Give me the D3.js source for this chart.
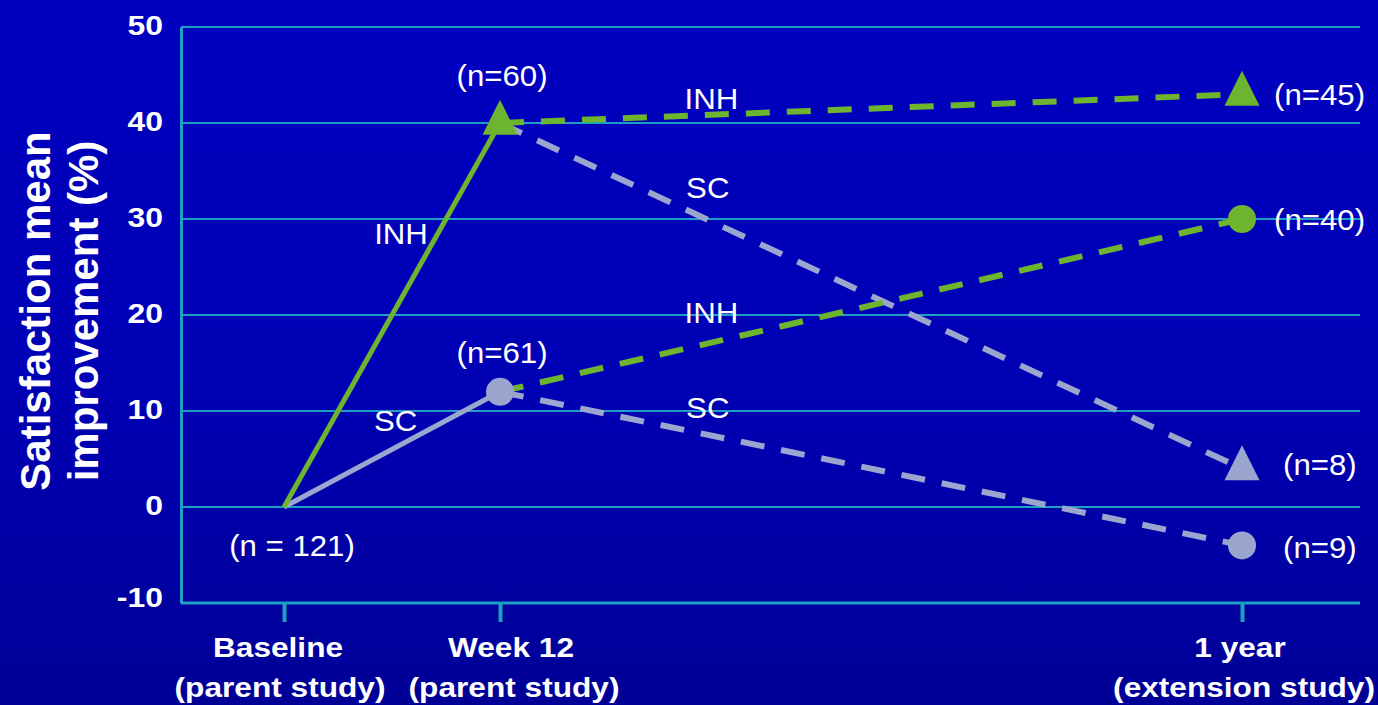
<!DOCTYPE html>
<html>
<head>
<meta charset="utf-8">
<script src="https://cdn.jsdelivr.net/npm/d3@7"></script>
<style>
  html, body { margin: 0; padding: 0; background: #0000b4; }
  svg { display: block; }
  text { font-family: Arial, "Liberation Sans", sans-serif; fill: #ffffff; }
</style>
</head>
<body>
<svg id="chart" width="1378" height="705"></svg>
<script>
// Time points on the x axis (weeks since baseline)
const timepoints = ["Baseline", "Week 12", "1 year"];
const timeSubtitles = ["(parent study)", "(parent study)", "(extension study)"];
const weeks = [0, 12, 52];
const yTicks = [-10, 0, 10, 20, 30, 40, 50];

// Parent study: baseline -> week 12, by randomised arm
const parentArms = ["INH", "SC"];
const inhParent = [0, 40];
const scParent = [0, 12];
const parentN = [121, 60, 61]; // baseline, INH week 12, SC week 12

// Extension study: week 12 -> 1 year, by arm at week 12 and treatment chosen
const fromInhToInh = [40, 43];
const fromInhToSc = [40, 4];
const fromScToInh = [12, 30];
const fromScToSc = [12, -4];
const yearN = [45, 8, 40, 9];

const GREEN = "#6db52e";
const GREY = "#9ba6cf";
const GRID = "#1e9fc4";

const svg = d3.select("#chart");
const W = 1378, H = 705;

// Background gradient
const defs = svg.append("defs");
const grad = defs.append("linearGradient").attr("id", "bg").attr("x1", 0).attr("y1", 0).attr("x2", 0).attr("y2", 1);
grad.append("stop").attr("offset", "0%").attr("stop-color", "#0000c0");
grad.append("stop").attr("offset", "55%").attr("stop-color", "#0000b4");
grad.append("stop").attr("offset", "100%").attr("stop-color", "#000096");
svg.append("rect").attr("width", W).attr("height", H).attr("fill", "url(#bg)");

const plotLeft = 181, plotRight = 1360;
const x = d3.scaleLinear().domain(weeks).range([284, 500, 1242]);
const y = d3.scaleLinear().domain([-10, 50]).range([603, 27]);

// Text helper with a slight horizontal widening
function wideText(g, tx, ty, str, opts) {
  return g.append("text")
    .attr("transform", `translate(${tx},${ty}) scale(${opts.sx || 1},1)`)
    .attr("text-anchor", opts.anchor || "middle")
    .attr("dy", opts.dy || null)
    .attr("font-size", opts.size)
    .attr("font-weight", opts.bold ? "bold" : "normal")
    .text(str);
}

// Horizontal gridlines
svg.append("g").selectAll("line").data(yTicks).join("line")
  .attr("x1", plotLeft).attr("x2", plotRight)
  .attr("y1", d => y(d)).attr("y2", d => y(d))
  .attr("stroke", GRID).attr("stroke-width", d => d === -10 ? 3 : 2);

// Y axis (line only; labels drawn below)
const yAxis = d3.axisLeft(y).tickValues(yTicks).tickSize(0).tickFormat("");
const yg = svg.append("g").attr("transform", `translate(${plotLeft},0)`).call(yAxis);
yg.select(".domain").attr("stroke", GRID).attr("stroke-width", 3);
const ytl = svg.append("g");
yTicks.forEach(t => {
  wideText(ytl, 163, y(t) - (t === -10 ? 6 : 2), String(t),
    { size: 28, bold: true, anchor: "end", sx: 1.14, dy: "0.35em" });
});

// X axis ticks
const xAxis = d3.axisBottom(x).tickValues(weeks).tickSize(19).tickFormat("");
const xg = svg.append("g").attr("transform", `translate(0,${y(-10)})`).call(xAxis);
xg.select(".domain").remove();
xg.selectAll(".tick line").attr("stroke", GRID).attr("stroke-width", 4);

// X tick labels (two lines each)
const labelShift = [-6, 11, -2];
const subShift = [-4, 14, 2];
const xl = svg.append("g");
timepoints.forEach((t, i) => {
  wideText(xl, x(weeks[i]) + labelShift[i], 657, t, { size: 28, bold: true, sx: 1.13 });
  wideText(xl, x(weeks[i]) + subShift[i], 697, timeSubtitles[i], { size: 28, bold: true, sx: 1.13 });
});

// Y axis title
const yt = svg.append("text").attr("transform", "translate(50,311) rotate(-90)")
  .attr("text-anchor", "middle").attr("font-size", 42).attr("font-weight", "bold");
yt.append("tspan").attr("x", 0).attr("y", 0).text("Satisfaction mean");
yt.append("tspan").attr("x", 0).attr("y", 48).text("improvement (%)");

const line = d3.line().x(d => x(d[0])).y(d => y(d[1]));

// Extension study segments (dashed)
const extSeries = [
  { vals: fromInhToSc, color: GREY },
  { vals: fromScToSc, color: GREY },
  { vals: fromScToInh, color: GREEN },
  { vals: fromInhToInh, color: GREEN }
];
svg.append("g").selectAll("path").data(extSeries).join("path")
  .attr("d", d => line(d.vals.map((v, i) => [weeks[i + 1], v])))
  .attr("fill", "none").attr("stroke", d => d.color)
  .attr("stroke-width", 6).attr("stroke-dasharray", "24,17");

// Parent study segments (solid)
const parentSeries = [
  { vals: scParent, color: GREY },
  { vals: inhParent, color: GREEN }
];
svg.append("g").selectAll("path").data(parentSeries).join("path")
  .attr("d", d => line(d.vals.map((v, i) => [weeks[i], v])))
  .attr("fill", "none").attr("stroke", d => d.color).attr("stroke-width", 5);

// Markers: triangles for the INH week-12 group, circles for the SC week-12 group
const tri = {
  draw(ctx, size) {
    const s = Math.sqrt(size); // width == height
    ctx.moveTo(0, -2 * s / 3);
    ctx.lineTo(s / 2, s / 3);
    ctx.lineTo(-s / 2, s / 3);
    ctx.closePath();
  }
};
const markers = [
  { w: 12, v: inhParent[1], shape: "tri", color: GREEN },
  { w: 12, v: scParent[1], shape: "circle", color: GREY },
  { w: 52, v: fromInhToInh[1], shape: "tri", color: GREEN },
  { w: 52, v: fromInhToSc[1], shape: "tri", color: GREY },
  { w: 52, v: fromScToInh[1], shape: "circle", color: GREEN },
  { w: 52, v: fromScToSc[1], shape: "circle", color: GREY }
];
svg.append("g").selectAll("path").data(markers).join("path")
  .attr("transform", d => `translate(${x(d.w)},${y(d.v)})`)
  .attr("d", d => d.shape === "tri"
    ? d3.symbol().type(tri).size(35 * 35)()
    : d3.symbol().type(d3.symbolCircle).size(Math.PI * 14 * 14)())
  .attr("fill", d => d.color);

// Series labels
const seriesLabels = [
  { text: "INH", w: 6.5, v: 28.5 },
  { text: "SC", w: 6.2, v: 9.0 },
  { text: "INH", w: 23.4, v: 42.6 },
  { text: "SC", w: 23.2, v: 33.3 },
  { text: "INH", w: 23.4, v: 20.3 },
  { text: "SC", w: 23.2, v: 10.4 }
];
const sl = svg.append("g");
seriesLabels.forEach(d => {
  wideText(sl, x(d.w), y(d.v), d.text, { size: 30, sx: 1.04, dy: "0.36em" });
});

// Sample size labels
const nLabels = [
  { text: `(n = ${parentN[0]})`, px: x(0) + 8, py: y(0) + 38, anchor: "middle" },
  { text: `(n=${parentN[1]})`, px: x(12) + 2, py: y(inhParent[1]) - 48, anchor: "middle" },
  { text: `(n=${parentN[2]})`, px: x(12) + 2, py: y(scParent[1]) - 40, anchor: "middle" },
  { text: `(n=${yearN[0]})`, px: x(52) + 32, py: y(fromInhToInh[1]), anchor: "start" },
  { text: `(n=${yearN[1]})`, px: x(52) + 41, py: y(fromInhToSc[1]) - 4, anchor: "start" },
  { text: `(n=${yearN[2]})`, px: x(52) + 32, py: y(fromScToInh[1]), anchor: "start" },
  { text: `(n=${yearN[3]})`, px: x(52) + 41, py: y(fromScToSc[1]) + 2, anchor: "start" }
];
const nl = svg.append("g");
nLabels.forEach(d => {
  wideText(nl, d.px, d.py, d.text, { size: 30, sx: 1.04, anchor: d.anchor, dy: "0.36em" });
});
</script>
</body>
</html>
